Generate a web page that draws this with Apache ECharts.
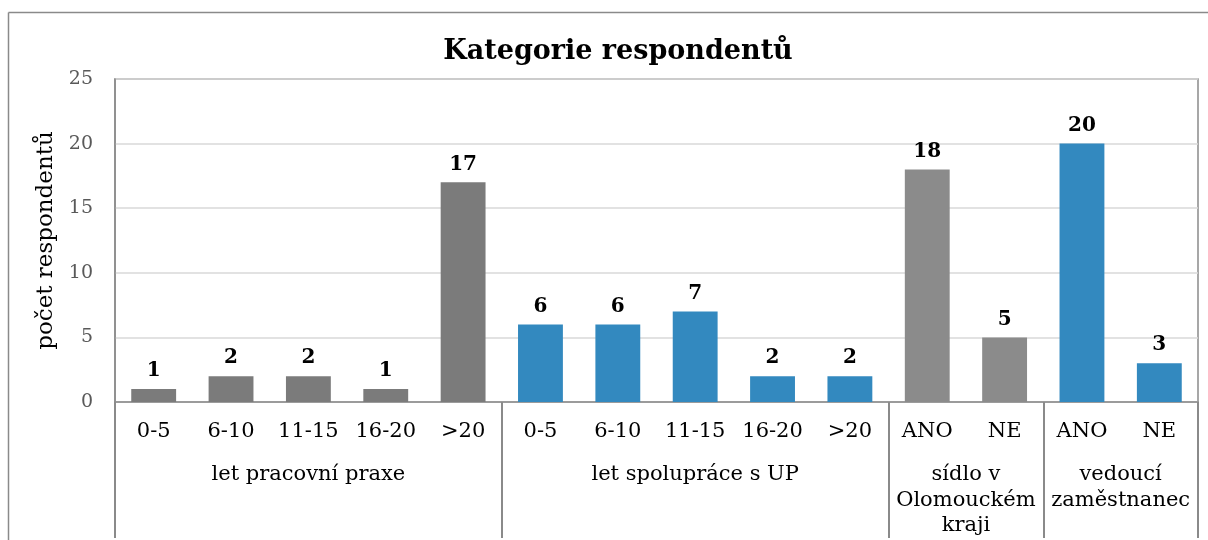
<!DOCTYPE html>
<html>
<head>
<meta charset="utf-8">
<script src="https://cdn.jsdelivr.net/npm/echarts@6/dist/echarts.min.js"></script>
<style>
html,body{margin:0;padding:0;background:#fff;overflow:hidden;}
#c{width:1208px;height:540px;}
</style>
</head>
<body>
<div id="c"></div>
<script>
const categories = ['0-5','6-10','11-15','16-20','>20','0-5','6-10','11-15','16-20','>20','ANO','NE','ANO','NE'];
const values = [1,2,2,1,17,6,6,7,2,2,18,5,20,3];
const groupNames = ['let pracovní praxe','let spolupráce s UP','sídlo v\nOlomouckém\nkraji','vedoucí\nzaměstnanec'];
const groupSizes = [5,5,2,2];
const yTicks = [0,5,10,15,20,25];

const groupColors = ['#7b7b7b','#3389bf','#8b8b8b','#3389bf'];
const FONT = '"DejaVu Serif", "Liberation Serif", serif';

// group boundaries and centres on a 0..N value scale
const bounds = [0];
groupSizes.forEach(s => bounds.push(bounds[bounds.length-1] + s));
const centers = groupSizes.map((s,i) => bounds[i] + s/2);
const groupOf = idx => { for (let g=0; g<groupSizes.length; g++) if (idx < bounds[g+1]) return g; return groupSizes.length-1; };

const chart = echarts.init(document.getElementById('c'));
chart.setOption({
  animation: false,
  title: {
    text: 'Kategorie respondentů',
    left: 613, top: 33, textAlign: 'center',
    textStyle: {fontFamily: FONT, fontWeight: 'bold', fontSize: 27, color: '#000'}
  },
  graphic: [{
    type: 'line', shape: {x1: 8.5, y1: 12.5, x2: 8.5, y2: 800},
    style: {stroke: '#8a8a8a', lineWidth: 1.5}, silent: true, z: -1
  }, {
    type: 'line', shape: {x1: 8.5, y1: 12.5, x2: 1400, y2: 12.5},
    style: {stroke: '#8a8a8a', lineWidth: 1.5}, silent: true, z: -1
  }],
  grid: {left: 115, top: 79, right: 10, bottom: 138, show: true, borderColor: '#8a8a8a', borderWidth: 1.5},
  yAxis: {
    type: 'value', min: yTicks[0], max: yTicks[yTicks.length-1], interval: 5,
    name: 'počet respondentů', nameLocation: 'middle', nameGap: 56,
    nameTextStyle: {fontFamily: FONT, fontSize: 23, color: '#000'},
    axisLine: {show: true, lineStyle: {color: '#8a8a8a', width: 1.5}},
    axisTick: {show: false},
    axisLabel: {fontFamily: FONT, fontSize: 19, color: '#595959', margin: 22},
    splitLine: {lineStyle: {color: '#d9d9d9', width: 1.5}}
  },
  xAxis: [{
    type: 'category', data: categories,
    axisLine: {show: true, lineStyle: {color: '#8a8a8a', width: 1.5}},
    axisTick: {show: false},
    axisLabel: {fontFamily: FONT, fontSize: 21, color: '#000', margin: 19, interval: 0}
  }, {
    type: 'value', min: 0, max: bounds[bounds.length-1], position: 'bottom',
    axisLine: {show: false},
    splitLine: {show: false},
    axisTick: {show: true, customValues: bounds, length: 136, lineStyle: {color: '#8a8a8a', width: 2}},
    axisLabel: {
      customValues: centers, margin: 60, fontFamily: FONT, fontSize: 21, color: '#000',
      lineHeight: 25.5, verticalAlign: 'top', align: 'center',
      formatter: v => { const i = centers.indexOf(v); return i >= 0 ? groupNames[i] : ''; }
    }
  }],
  series: [{
    type: 'bar', xAxisIndex: 0,
    data: values.map((v,i) => ({value: v, itemStyle: {color: groupColors[groupOf(i)]}})),
    barCategoryGap: '42%',
    label: {show: true, position: 'top', distance: 8, fontFamily: FONT, fontWeight: 'bold', fontSize: 20, color: '#000'}
  }]
});
</script>
</body>
</html>
